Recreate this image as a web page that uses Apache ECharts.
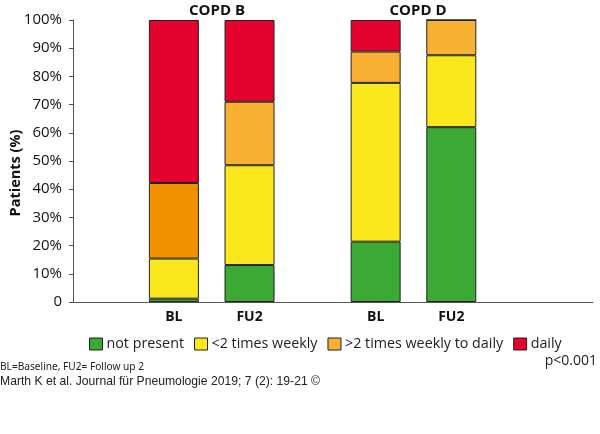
<!DOCTYPE html>
<html>
<head>
<meta charset="utf-8">
<script src="https://cdn.jsdelivr.net/npm/echarts@6/dist/echarts.min.js"></script>
<style>
html,body{margin:0;padding:0;background:#fff;}
#c{width:600px;height:434px;}
</style>
</head>
<body>
<div id="c"></div>
<script>
// ---- data ----
const groups = ['COPD B', 'COPD D'];
const barLabels = ['BL', 'FU2', 'BL', 'FU2'];
const seriesNames = ['not present', '<2 times weekly', '>2 times weekly to daily', 'daily'];
const notPresent = [1.2, 13.1, 21.4, 62.0];
const lessTwice = [14.2, 35.4, 56.3, 25.5];
const moreTwice = [26.8, 22.5, 11.1, 12.5];
const daily = [57.8, 29.0, 11.2, 0];
const yTicks = [0, 10, 20, 30, 40, 50, 60, 70, 80, 90, 100];
const footnote1 = 'BL=Baseline, FU2= Follow up 2';
const footnote2 = 'Marth K et al. Journal für Pneumologie 2019; 7 (2): 19-21 ©';
const pText = 'p<0.001';

// ---- layout (category slot for each bar) ----
const slotCount = 22;
const barSlots = [4, 7, 12, 15];
const colors = ['#3aaa35', '#fbe71d', '#f8b133', '#e4032e'];
const darkOrange = '#f39200';

const categories = new Array(slotCount).fill('');
barSlots.forEach((s, i) => categories[s] = barLabels[i]);

function toSlots(vals, idx) {
  const arr = new Array(slotCount).fill(null);
  barSlots.forEach((s, i) => {
    const v = vals[i];
    if (idx === 2 && i === 0) {
      arr[s] = { value: v, itemStyle: { color: darkOrange } };
    } else {
      arr[s] = v;
    }
  });
  return arr;
}

const allVals = [notPresent, lessTwice, moreTwice, daily];
const series = seriesNames.map((name, k) => ({
  name: name,
  type: 'bar',
  stack: 'total',
  barWidth: 50,
  xAxisIndex: 0,
  yAxisIndex: 0,
  itemStyle: { color: colors[k], borderColor: '#222', borderWidth: 1 },
  emphasis: { disabled: true },
  data: toSlots(allVals[k], k)
}));

// condensed footnote text: horizontal scale to match narrow typeface
const ctx = document.createElement('canvas').getContext('2d');
function fitScale(text, size, family, targetWidth) {
  ctx.font = size + 'px "' + family + '"';
  return targetWidth / ctx.measureText(text).width;
}
const fn1Size = 11, fn1Family = 'Noto Sans';
const fn2Size = 13, fn2Family = 'Liberation Sans';
const fn1Scale = fitScale(footnote1, fn1Size, fn1Family, 144);
const fn2Scale = fitScale(footnote2, fn2Size, fn2Family, 320);

const chart = echarts.init(document.getElementById('c'), null, { renderer: 'canvas' });
const font = 'Open Sans';
chart.setOption({
  animation: false,
  backgroundColor: '#fff',
  textStyle: { fontFamily: font },
  title: [
    { text: groups[0], left: 212, top: -2, textAlign: 'center',
      textStyle: { fontFamily: font, fontSize: 15, fontWeight: 'bold', color: '#111' } },
    { text: groups[1], left: 413, top: -2, textAlign: 'center',
      textStyle: { fontFamily: font, fontSize: 15, fontWeight: 'bold', color: '#111' } },
    { text: pText, right: 3, top: 354, padding: 0,
      textStyle: { fontFamily: font, fontSize: 14, fontWeight: 'normal', color: '#222' } }
  ],
  graphic: [
    { type: 'text', x: 0, y: 361, scaleX: fn1Scale, scaleY: 1,
      style: { text: footnote1, fontSize: fn1Size, fontFamily: fn1Family, fill: '#222' } },
    { type: 'text', x: 0, y: 375, scaleX: fn2Scale, scaleY: 1,
      style: { text: footnote2, fontSize: fn2Size, fontFamily: fn2Family, fill: '#222' } }
  ],
  legend: {
    data: seriesNames,
    left: 89, top: 337, padding: 0,
    itemWidth: 13, itemHeight: 12, itemGap: 10,
    icon: 'rect',
    itemStyle: { borderColor: '#222', borderWidth: 1 },
    textStyle: { fontFamily: font, fontSize: 14.3, color: '#222', padding: [0, 0, 0, -1] },
    selectedMode: false
  },
  grid: [
    { left: 73, right: -2.6, top: 20, bottom: 132, containLabel: false, outerBoundsMode: 'none' },
    { left: 73, right: 7, top: 20, bottom: 132, containLabel: false, outerBoundsMode: 'none' }
  ],
  xAxis: [
    {
      type: 'category', gridIndex: 0, data: categories, boundaryGap: false,
      axisLine: { show: false }, axisTick: { show: false }, splitLine: { show: false },
      axisLabel: { interval: 0, margin: 8, fontFamily: font, fontSize: 14, fontWeight: 'bold', color: '#111' }
    },
    {
      type: 'value', gridIndex: 1, min: 0, max: 1,
      axisLine: { show: true, lineStyle: { color: '#555', width: 1 } },
      axisTick: { show: false }, axisLabel: { show: false }, splitLine: { show: false }
    }
  ],
  yAxis: [
    {
      type: 'value', gridIndex: 0, min: yTicks[0], max: yTicks[yTicks.length - 1], interval: 10,
      name: 'Patients (%)', nameLocation: 'middle', nameGap: 50, nameRotate: 90,
      nameMoveOverlap: false,
      nameTextStyle: { fontFamily: font, fontSize: 14.5, fontWeight: 'bold', color: '#111',
        padding: [0, 24, 0, 0] },
      axisLine: { show: true, lineStyle: { color: '#555', width: 1 } },
      axisTick: { show: true, length: 4, lineStyle: { color: '#555' } },
      splitLine: { show: false },
      axisLabel: { margin: 11, fontFamily: font, fontSize: 15, color: '#111',
        formatter: v => v === 0 ? '0' : v + '%' }
    },
    { type: 'value', gridIndex: 1, show: false, min: 0, max: 1 }
  ],
  series: series
});
</script>
</body>
</html>
